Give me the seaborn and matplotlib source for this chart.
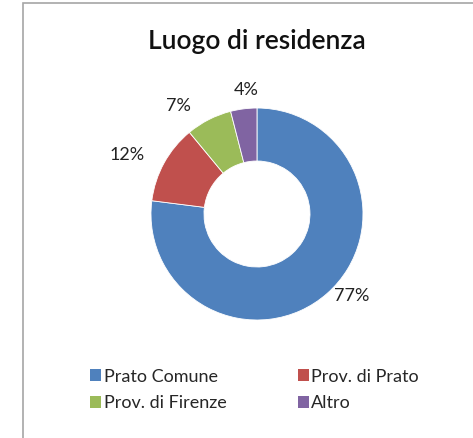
import matplotlib
matplotlib.use("Agg")
import numpy as np
import matplotlib.pyplot as plt
import seaborn as sns
from matplotlib.patches import Rectangle, Patch

# data
categories = ["Prato Comune", "Prov. di Prato", "Prov. di Firenze", "Altro"]
values = [77, 12, 7, 4]
colors = sns.color_palette(["#4F81BD", "#C0504D", "#9BBB59", "#8064A2"])

# label placement (radius, angle shift in degrees) per slice, outside end like excel
label_radius = [1.18, 1.35, 1.26, 1.17]
label_shift = [7.8, 4.4, 9.0, -2.2]

sns.set_theme(style="white")
plt.rcParams["font.family"] = ["Lato", "DejaVu Sans"]

fig = plt.figure(figsize=(4.73, 4.38), dpi=100)

# chart frame (only left and top edges are visible in the picture)
fig.patches.append(Rectangle((23 / 473, -0.1), 1.2, 1 - 3 / 438 + 0.1,
                             transform=fig.transFigure, fill=False,
                             edgecolor="#a6a6a6", linewidth=1.2))

fig.text(257 / 473, 1 - 42 / 438, "Luogo di residenza", ha="center", va="center",
         fontsize=19, fontweight="semibold", color="#111111")

ax = fig.add_axes([0.3192, 0.2694, 0.4482, 0.484])
wedges, texts = ax.pie(
    values, colors=colors, startangle=90, counterclock=False,
    wedgeprops=dict(width=0.5, edgecolor="white", linewidth=0.6))
ax.set_xlim(-1, 1)
ax.set_ylim(-1, 1)
ax.set_aspect("equal")

for w, v, r, s in zip(wedges, values, label_radius, label_shift):
    ang = np.deg2rad((w.theta1 + w.theta2) / 2 + s)
    ax.text(r * np.cos(ang), r * np.sin(ang), f"{v}%", ha="center", va="center",
            fontsize=13, color="#222222")

order = [0, 2, 1, 3]
handles = [Patch(facecolor=colors[i], edgecolor="none") for i in order]
labels = [categories[i] for i in order]
fig.legend(handles, labels, loc="center left",
           bbox_to_anchor=(74 / 473, 1 - 390 / 438), ncol=2, frameon=False,
           fontsize=13, handlelength=0.6, handleheight=0.6, handletextpad=0.15,
           columnspacing=3.95, labelspacing=0.6)

fig.savefig("out.png", dpi=100)
